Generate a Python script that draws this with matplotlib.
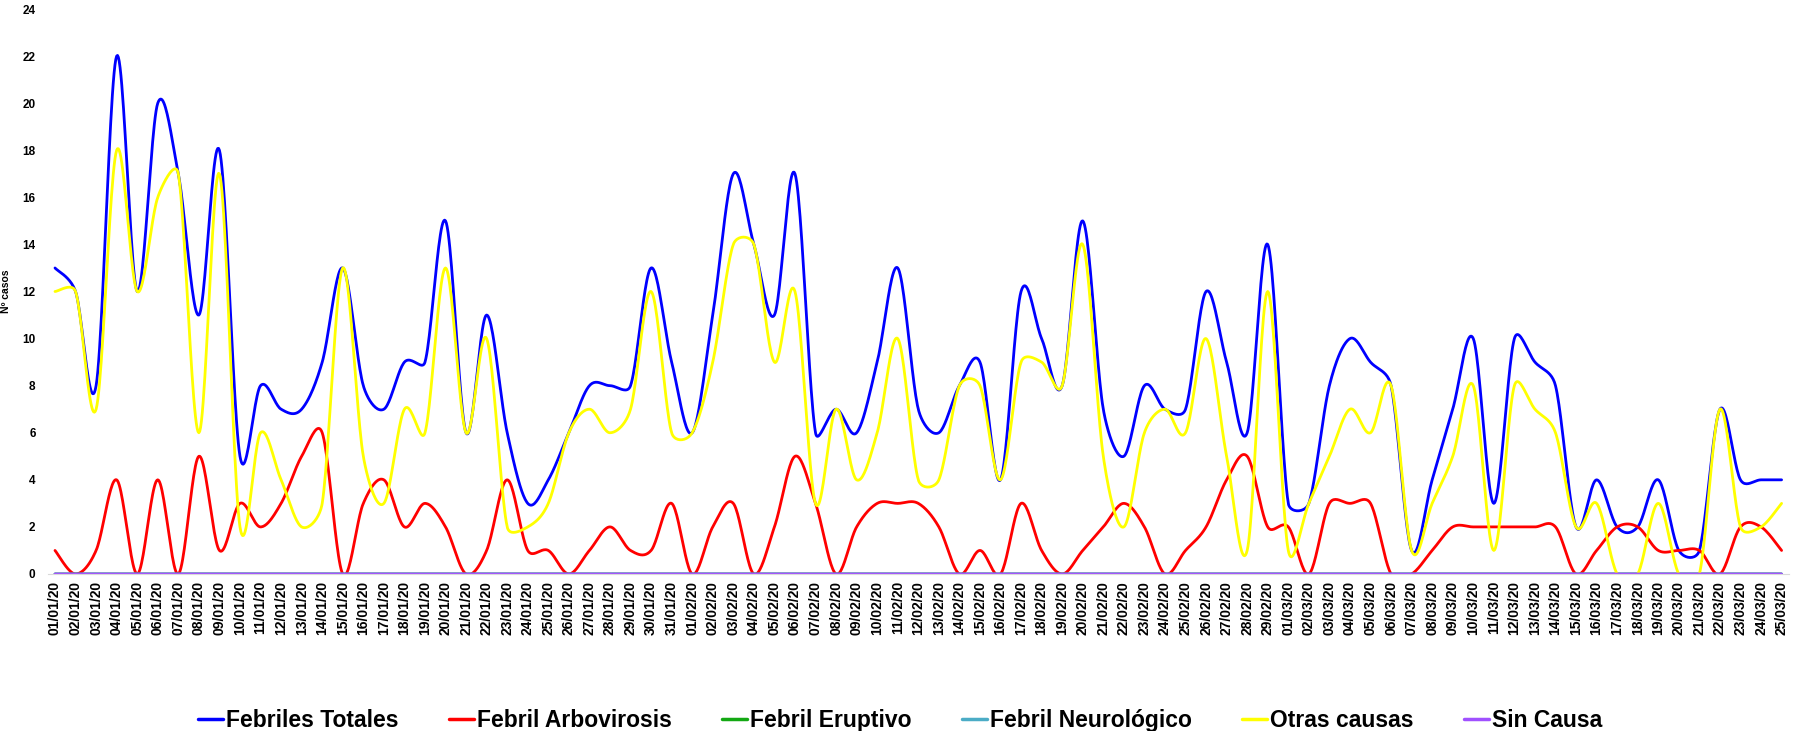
import numpy as np
import matplotlib
matplotlib.use("Agg")
import matplotlib.pyplot as plt
from datetime import date, timedelta

# ---- data ----
start = date(2020, 1, 1)
dates = [(start + timedelta(days=i)).strftime("%d/%m/%y") for i in range(85)]

febriles_totales = [13, 12, 8, 22, 12, 20, 17, 11, 18, 5, 8, 7, 7, 9, 13, 8, 7, 9, 9, 15,
                    6, 11, 6, 3, 4, 6, 8, 8, 8, 13, 9, 6, 11, 17, 14, 11, 17, 6, 7, 6,
                    9, 13, 7, 6, 8, 9, 4, 12, 10, 8, 15, 7, 5, 8, 7, 7, 12, 9, 6, 14,
                    3, 3, 8, 10, 9, 8, 1, 4, 7, 10, 3, 10, 9, 8, 2, 4, 2, 2, 4, 1,
                    1, 7, 4, 4, 4]
febril_arbovirosis = [1, 0, 1, 4, 0, 4, 0, 5, 1, 3, 2, 3, 5, 6, 0, 3, 4, 2, 3, 2,
                      0, 1, 4, 1, 1, 0, 1, 2, 1, 1, 3, 0, 2, 3, 0, 2, 5, 3, 0, 2,
                      3, 3, 3, 2, 0, 1, 0, 3, 1, 0, 1, 2, 3, 2, 0, 1, 2, 4, 5, 2,
                      2, 0, 3, 3, 3, 0, 0, 1, 2, 2, 2, 2, 2, 2, 0, 1, 2, 2, 1, 1,
                      1, 0, 2, 2, 1]
febril_eruptivo = [0] * 85
febril_neurologico = [0] * 85
otras_causas = [12, 12, 7, 18, 12, 16, 17, 6, 17, 2, 6, 4, 2, 3, 13, 5, 3, 7, 6, 13,
                6, 10, 2, 2, 3, 6, 7, 6, 7, 12, 6, 6, 9, 14, 14, 9, 12, 3, 7, 4,
                6, 10, 4, 4, 8, 8, 4, 9, 9, 8, 14, 5, 2, 6, 7, 6, 10, 5, 1, 12,
                1, 3, 5, 7, 6, 8, 1, 3, 5, 8, 1, 8, 7, 6, 2, 3, 0, 0, 3, 0,
                0, 7, 2, 2, 3]
sin_causa = [0] * 85

series = [
    ("Febriles Totales", febriles_totales, "#0000FF"),
    ("Febril Arbovirosis", febril_arbovirosis, "#FF0000"),
    ("Febril Eruptivo", febril_eruptivo, "#13A813"),
    ("Febril Neurológico", febril_neurologico, "#4BACC6"),
    ("Otras causas", otras_causas, "#FFFF00"),
    ("Sin Causa", sin_causa, "#A050FF"),
]

SX, SY = 20.56, 23.5  # approx screen pixels per day / per case, for smoothing


def smooth(y, n=24, cap=0.5):
    """Spreadsheet-like smoothed line: Catmull-Rom Bezier with capped handles."""
    y = np.asarray(y, dtype=float)
    x = np.arange(len(y), dtype=float)
    P = np.column_stack([x * SX, y * SY])
    m = len(P)
    out = []
    for i in range(m - 1):
        p0 = P[i - 1] if i > 0 else P[i]
        p1 = P[i]
        p2 = P[i + 1]
        p3 = P[i + 2] if i + 2 < m else P[i + 1]
        L = np.linalg.norm(p2 - p1)
        h1 = (p2 - p0) / 6.0
        h2 = (p3 - p1) / 6.0
        n1 = np.linalg.norm(h1)
        n2 = np.linalg.norm(h2)
        if n1 > cap * L:
            h1 = h1 * (cap * L / n1)
        if n2 > cap * L:
            h2 = h2 * (cap * L / n2)
        c1 = p1 + h1
        c2 = p2 - h2
        t = np.linspace(0, 1, n, endpoint=(i == m - 2))[:, None]
        seg = ((1 - t) ** 3) * p1 + 3 * ((1 - t) ** 2) * t * c1 + 3 * (1 - t) * t ** 2 * c2 + t ** 3 * p2
        out.append(seg)
    out = np.vstack(out)
    return out[:, 0] / SX, out[:, 1] / SY


plt.rcParams['font.family'] = ['Liberation Sans', 'DejaVu Sans']

fig = plt.figure(figsize=(18, 7.31), dpi=100)
ax = fig.add_axes([48 / 1800, 1 - 574 / 731, 1741 / 1800, (574 - 9) / 731])

for name, vals, col in series:
    xs, ys = smooth(vals)
    ax.plot(xs, ys, color=col, lw=2.0, label=name, solid_capstyle='round')

ax.set_xlim(-0.34, 84.36)
ax.set_ylim(0, 24)
ax.set_yticks(np.arange(0, 25, 2))
ax.set_xticks(np.arange(85))
ax.set_xticklabels(dates, rotation=90, fontsize=10, fontweight='bold')
for lab in ax.get_yticklabels():
    lab.set_fontweight('bold')
    lab.set_fontsize(8.5)
ax.tick_params(axis='both', length=0)
ax.tick_params(axis='y', pad=9)
ax.tick_params(axis='x', pad=5)
for s in ['top', 'right', 'left']:
    ax.spines[s].set_visible(False)
ax.spines['bottom'].set_color('#D9D9D9')
ax.set_ylabel("Nº casos", fontsize=7.5, fontweight='bold', labelpad=8)

leg = fig.legend(loc='center', bbox_to_anchor=(0.5, 0.015), ncol=6, frameon=False,
                 prop={'weight': 'bold', 'size': 16.5}, handlelength=1.1,
                 handletextpad=0.12, columnspacing=2.2)
for line in leg.get_lines():
    line.set_linewidth(2.5)

fig.savefig("out.png", dpi=100)
